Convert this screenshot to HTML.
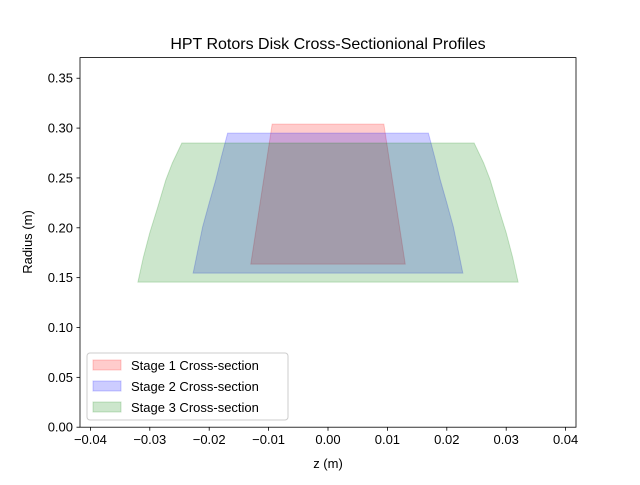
<!DOCTYPE html>
<html><head><meta charset="utf-8"><style>
body{margin:0;background:#fff;}
svg{font-family:"Liberation Sans","DejaVu Sans",sans-serif;}
</style></head><body>
<svg id="chart" width="640" height="480" viewBox="0 0 640 480">
<rect width="640" height="480" fill="#fff"/>
<text x="328" y="49" text-anchor="middle" font-size="16">HPT Rotors Disk Cross-Sectionional Profiles</text>
<g id="series"></g>
<rect x="80" y="57.6" width="496" height="369.6" fill="none" stroke="#000" stroke-width="0.8"/>
<g id="axes"></g>
<text x="328" y="468" text-anchor="middle" font-size="13">z (m)</text>
<text x="32" y="242" text-anchor="middle" font-size="13" transform="rotate(-90 32 242)">Radius (m)</text>
<g>
<rect x="87" y="353" width="201" height="67" rx="3" fill="#fff" fill-opacity="0.8" stroke="#ccc"/>
<g id="legend-items"></g>
</g>
</svg>
<script>
const seriesNames=["Stage 1 Cross-section","Stage 2 Cross-section","Stage 3 Cross-section"];
const seriesColors=["#ff0000","#0000ff","#008000"];
// right-side profile (top to bottom), mirrored for left side
const stage1R=[0.304,0.1635];
const stage1Z=[0.0094,0.0130];
const stage2R=[0.295,0.270,0.248,0.225,0.201,0.178,0.1545];
const stage2Z=[0.0169,0.0180,0.0189,0.0200,0.0211,0.0219,0.0227];
const stage3R=[0.285,0.265,0.248,0.220,0.195,0.170,0.1455];
const stage3Z=[0.0246,0.0262,0.0273,0.0287,0.0300,0.0311,0.0320];
const xTicks=[-0.04,-0.03,-0.02,-0.01,0,0.01,0.02,0.03,0.04];
const xTickLabels=["−0.04","−0.03","−0.02","−0.01","0.00","0.01","0.02","0.03","0.04"];
const yTicks=[0,0.05,0.1,0.15,0.2,0.25,0.3,0.35];
const yTickLabels=["0.00","0.05","0.10","0.15","0.20","0.25","0.30","0.35"];

const X0=80,X1=576,Y0=427.2,Y1=57.6;
const xmin=-0.04175,xmax=0.04175,ymin=0,ymax=0.3707;
const sx=v=>X0+(v-xmin)/(xmax-xmin)*(X1-X0);
const sy=v=>Y0-(v-ymin)/(ymax-ymin)*(Y0-Y1);
const NS="http://www.w3.org/2000/svg";
const mk=(t,a)=>{const e=document.createElementNS(NS,t);for(const k in a)e.setAttribute(k,a[k]);return e;};
const sg=document.getElementById('series');
const data=[[stage1R,stage1Z],[stage2R,stage2Z],[stage3R,stage3Z]];
data.forEach((d,i)=>{
  const [R,Z]=d;let pts=[];
  for(let j=0;j<R.length;j++)pts.push(sx(Z[j])+","+sy(R[j]));
  for(let j=R.length-1;j>=0;j--)pts.push(sx(-Z[j])+","+sy(R[j]));
  const p=mk('polygon',{points:pts.join(' '),fill:seriesColors[i],'fill-opacity':0.2,stroke:seriesColors[i],'stroke-opacity':0.2,'stroke-width':1});
  
  
  sg.appendChild(p);
});
const ag=document.getElementById('axes');
xTicks.forEach((v,i)=>{
  const x=sx(v);
  ag.appendChild(mk('line',{x1:x,x2:x,y1:Y0,y2:Y0+3.5,stroke:'#000','stroke-width':0.8}));
  const t=mk('text',{x:x,y:Y0+17,'text-anchor':'middle','font-size':13});
  t.textContent=xTickLabels[i];
  
  
  ag.appendChild(t);
});
yTicks.forEach((v,i)=>{
  const y=sy(v);
  ag.appendChild(mk('line',{x1:X0,x2:X0-3.5,y1:y,y2:y,stroke:'#000','stroke-width':0.8}));
  const t=mk('text',{x:X0-7,y:y+4.5,'text-anchor':'end','font-size':13});
  t.textContent=yTickLabels[i];
  
  
  ag.appendChild(t);
});
const lg=document.getElementById('legend-items');
seriesNames.forEach((n,i)=>{
  const y=360+i*21;
  const r=mk('rect',{x:93,y:y,width:28,height:10,fill:seriesColors[i],'fill-opacity':0.2,stroke:seriesColors[i],'stroke-opacity':0.2});
  
  
  lg.appendChild(r);
  const t=mk('text',{x:131,y:y+10,'font-size':13});
  t.textContent=n;
  
  
  lg.appendChild(t);
});
</script>
</body></html>
